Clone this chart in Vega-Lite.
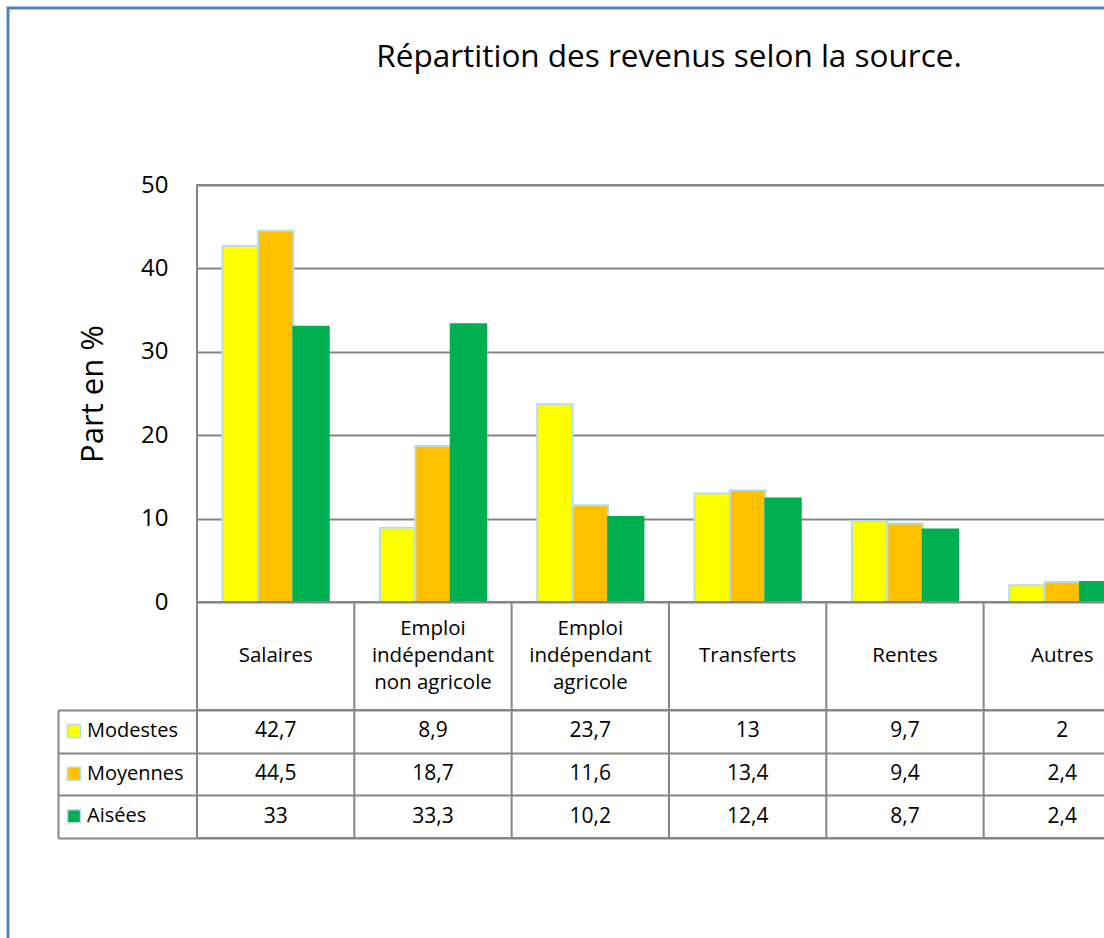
{
  "$schema": "https://vega.github.io/schema/vega-lite/v6.json",
  "padding": {"left": 6, "top": 6, "right": 0, "bottom": 0},
  "background": "white",
  "bounds": "flush",
  "config": {
    "font": "Open Sans",
    "view": {"stroke": "#868686", "strokeWidth": 2},
    "locale": {"number": {"decimal": ",", "thousands": " ", "grouping": [3], "currency": ["", " €"]}},
    "axis": {"labelColor": "black", "titleColor": "black"},
    "legend": {"strokeWidth": 3}
  },
  "datasets": {
    "d": [
      {"source": "Salaires", "serie": "Modestes", "part": 42.7},
      {"source": "Salaires", "serie": "Moyennes", "part": 44.5},
      {"source": "Salaires", "serie": "Aisées", "part": 33},
      {"source": "Emploi\nindépendant\nnon agricole", "serie": "Modestes", "part": 8.9},
      {"source": "Emploi\nindépendant\nnon agricole", "serie": "Moyennes", "part": 18.7},
      {"source": "Emploi\nindépendant\nnon agricole", "serie": "Aisées", "part": 33.3},
      {"source": "Emploi\nindépendant\nagricole", "serie": "Modestes", "part": 23.7},
      {"source": "Emploi\nindépendant\nagricole", "serie": "Moyennes", "part": 11.6},
      {"source": "Emploi\nindépendant\nagricole", "serie": "Aisées", "part": 10.2},
      {"source": "Transferts", "serie": "Modestes", "part": 13},
      {"source": "Transferts", "serie": "Moyennes", "part": 13.4},
      {"source": "Transferts", "serie": "Aisées", "part": 12.4},
      {"source": "Rentes", "serie": "Modestes", "part": 9.7},
      {"source": "Rentes", "serie": "Moyennes", "part": 9.4},
      {"source": "Rentes", "serie": "Aisées", "part": 8.7},
      {"source": "Autres", "serie": "Modestes", "part": 2},
      {"source": "Autres", "serie": "Moyennes", "part": 2.4},
      {"source": "Autres", "serie": "Aisées", "part": 2.4}
    ]
  },
  "spacing": 0,
  "vconcat": [
    {
      "width": 944,
      "height": 417,
      "title": {"text": "Répartition des revenus selon la source.", "fontSize": 31.5, "fontWeight": "normal", "color": "black", "anchor": "middle", "frame": "group", "offset": 100},
      "data": {"name": "d"},
      "layer": [
        {
          "mark": {"type": "bar", "strokeWidth": 2},
          "encoding": {
            "x": {"field": "source", "type": "nominal", "sort": null, "scale": {"paddingInner": 0.325, "paddingOuter": 0.1625}, "axis": null},
            "xOffset": {"field": "serie", "type": "nominal", "sort": ["Modestes", "Moyennes", "Aisées"], "scale": {"paddingInner": 0, "paddingOuter": 0}},
            "y": {
              "field": "part", "type": "quantitative",
              "scale": {"domain": [0, 50], "nice": false},
              "axis": {"values": [0, 10, 20, 30, 40, 50], "title": "Part en %", "titleFontSize": 31, "titleFontWeight": "normal", "titlePadding": 31, "labelFontSize": 24, "labelPadding": 29, "ticks": false, "domain": false, "grid": true, "gridColor": "#868686", "gridWidth": 2}
            },
            "color": {
              "field": "serie", "type": "nominal",
              "scale": {"domain": ["Modestes", "Moyennes", "Aisées"], "range": ["#FFFF00", "#FFC000", "#00B050"]},
              "legend": {"orient": "none", "legendX": -133, "legendY": 536, "title": null, "symbolType": "square", "symbolSize": 169, "symbolStrokeColor": "#B7DEE8", "symbolStrokeWidth": 1.5, "labelFontSize": 20, "labelColor": "black", "labelOffset": 3, "rowPadding": 22.67, "padding": 0}
            },
            "stroke": {"condition": {"test": "datum.serie === 'Aisées'", "value": "#00B050"}, "value": "#B7DEE8"}
          }
        },
        {
          "mark": {"type": "point", "opacity": 0},
          "encoding": {
            "shape": {"datum": "cadre", "legend": {"orient": "none", "legendX": -189, "legendY": -177, "title": null, "padding": 600, "strokeColor": "#4F81BD", "symbolOpacity": 0, "labelExpr": "''"}}
          }
        }
      ]
    },
    {
      "width": 944,
      "height": 108,
      "data": {"name": "d"},
      "transform": [{"filter": "datum.serie === 'Modestes'"}],
      "layer": [
        {
          "mark": {"type": "rule", "color": "#868686", "strokeWidth": 2},
          "encoding": {
            "x": {"field": "source", "type": "nominal", "sort": null, "bandPosition": 0, "scale": {"type": "band", "paddingInner": 0, "paddingOuter": 0}, "axis": null}
          }
        },
        {
          "transform": [{"filter": "indexof(datum.source, '\\n') < 0"}],
          "mark": {"type": "text", "fontSize": 20.5, "color": "black", "baseline": "middle"},
          "encoding": {
            "x": {"field": "source", "type": "nominal", "sort": null, "scale": {"type": "band", "paddingInner": 0, "paddingOuter": 0}, "axis": null},
            "text": {"field": "source"}
          }
        },
        {
          "transform": [{"filter": "indexof(datum.source, '\\n') >= 0"}],
          "mark": {"type": "text", "fontSize": 20.5, "lineBreak": "\n", "lineHeight": 27, "color": "black", "baseline": "middle", "dy": -27},
          "encoding": {
            "x": {"field": "source", "type": "nominal", "sort": null, "scale": {"type": "band", "paddingInner": 0, "paddingOuter": 0}, "axis": null},
            "text": {"field": "source"}
          }
        }
      ]
    },
    {
      "width": 944,
      "height": 128,
      "data": {"name": "d"},
      "layer": [
        {
          "mark": {"type": "rule", "color": "#868686", "strokeWidth": 2},
          "transform": [{"filter": "datum.serie === 'Modestes'"}],
          "encoding": {
            "x": {"field": "source", "type": "nominal", "sort": null, "bandPosition": 0, "scale": {"type": "band", "paddingInner": 0, "paddingOuter": 0}, "axis": null}
          }
        },
        {
          "mark": {"type": "text", "fontSize": 21, "color": "black"},
          "encoding": {
            "x": {"field": "source", "type": "nominal", "sort": null, "scale": {"type": "band", "paddingInner": 0, "paddingOuter": 0}, "axis": null},
            "y": {
              "field": "serie", "type": "nominal", "sort": ["Modestes", "Moyennes", "Aisées"],
              "scale": {"type": "band", "paddingInner": 0, "paddingOuter": 0},
              "axis": {"title": null, "labels": false, "offset": 139, "tickSize": -139, "tickBand": "extent", "tickColor": "#868686", "tickWidth": 2, "domainColor": "#868686", "domainWidth": 2, "grid": true, "gridColor": "#868686", "gridWidth": 2}
            },
            "text": {"field": "part", "type": "quantitative"}
          }
        }
      ]
    }
  ]
}
